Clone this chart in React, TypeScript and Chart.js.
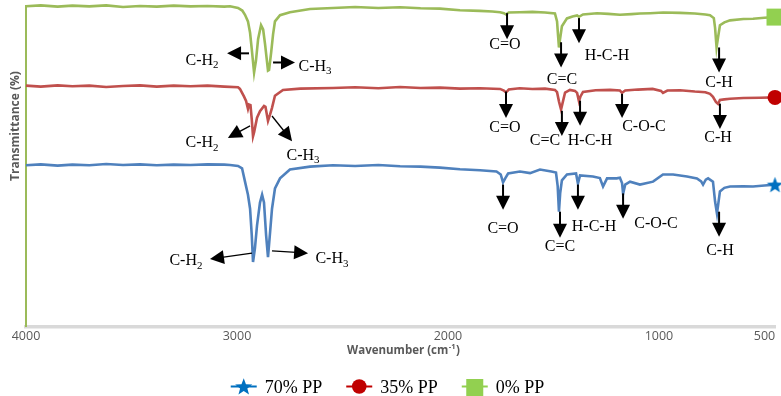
import React, { useEffect, useRef } from 'react';
import { Chart, registerables } from 'chart.js';

Chart.register(...registerables);

// ---------- data ----------
const xTicks = [4000, 3000, 2000, 1000, 500];
const seriesNames = ['70% PP', '35% PP', '0% PP'];

// 70% PP (blue)
const wn70 = [4000, 3930, 3850, 3780, 3700, 3620, 3540, 3460, 3380, 3300, 3220, 3140, 3060, 3033, 2995, 2976, 2962, 2948, 2938, 2930, 2924, 2915, 2905, 2891, 2881, 2872, 2862, 2853, 2843, 2834, 2820, 2796, 2749, 2654, 2545, 2440, 2330, 2227, 2130, 2038, 1943, 1848, 1770, 1750, 1739, 1728, 1715, 1659, 1611, 1564, 1510, 1488, 1480, 1474, 1468, 1460, 1436, 1393, 1384, 1374, 1313, 1280, 1265, 1246, 1200, 1185, 1175, 1170, 1160, 1137, 1090, 1028, 981, 933, 867, 820, 800, 791, 778, 767, 744, 734, 725, 711, 690, 663, 600, 554, 500, 450];
const t70 = [49.4, 49.7, 49.3, 49.6, 49.4, 49.8, 49.5, 49.7, 49.4, 49.6, 49.5, 49.7, 49.6, 49.5, 49.2, 48.5, 44.4, 40.4, 36.1, 28.0, 19.8, 24.0, 31.0, 38.0, 40.4, 38.0, 28.0, 21.3, 29.0, 36.1, 42.3, 45.4, 48.1, 49.0, 49.4, 49.2, 49.5, 49.1, 49.0, 48.7, 48.2, 47.9, 47.5, 46.6, 44.2, 45.5, 46.9, 47.5, 47.0, 48.1, 47.5, 47.2, 43.0, 35.2, 41.0, 44.8, 46.6, 46.9, 43.8, 46.3, 46.0, 45.5, 42.9, 45.4, 45.4, 45.6, 44.0, 40.7, 43.5, 44.4, 43.5, 44.4, 46.6, 46.6, 46.0, 45.4, 44.5, 43.5, 45.0, 45.4, 44.4, 38.3, 34.6, 41.4, 42.5, 42.9, 43.0, 42.9, 43.2, 43.5];

// 35% PP (red)
const wn35 = [4000, 3930, 3850, 3780, 3700, 3620, 3540, 3460, 3380, 3300, 3220, 3140, 3060, 2995, 2986, 2967, 2957, 2948, 2943, 2936, 2930, 2924, 2919, 2905, 2891, 2872, 2865, 2853, 2843, 2834, 2820, 2782, 2700, 2545, 2440, 2330, 2227, 2130, 2038, 1943, 1848, 1753, 1735, 1725, 1712, 1660, 1600, 1540, 1493, 1483, 1474, 1464, 1455, 1445, 1422, 1398, 1388, 1379, 1372, 1360, 1300, 1232, 1185, 1175, 1160, 1100, 1030, 990, 981, 960, 900, 830, 780, 758, 744, 730, 720, 711, 690, 663, 600, 521, 450];
const t35 = [73.8, 73.5, 73.9, 73.6, 73.8, 73.4, 73.7, 73.9, 73.5, 73.8, 73.6, 73.8, 73.5, 73.3, 72.8, 70.5, 69.1, 66.7, 68.0, 67.8, 63.5, 58.3, 59.5, 64.0, 66.0, 67.6, 67.3, 63.0, 65.0, 67.0, 70.7, 72.5, 72.9, 73.1, 73.3, 73.0, 73.4, 73.1, 73.2, 72.9, 73.0, 72.8, 72.3, 71.7, 72.6, 73.0, 72.8, 72.9, 72.5, 71.8, 69.0, 66.5, 69.0, 71.7, 72.5, 72.2, 71.6, 69.0, 70.5, 71.9, 72.4, 72.5, 72.3, 71.6, 72.3, 72.6, 72.8, 72.2, 71.6, 72.3, 72.4, 72.0, 71.8, 71.3, 70.4, 68.8, 68.2, 69.4, 69.6, 69.8, 70.0, 70.1, 70.2];

// 0% PP (green)
const wn0 = [4000, 3930, 3850, 3780, 3700, 3620, 3540, 3460, 3380, 3300, 3220, 3140, 3060, 3033, 2995, 2975, 2962, 2948, 2938, 2930, 2919, 2910, 2900, 2886, 2876, 2867, 2853, 2848, 2838, 2829, 2820, 2796, 2749, 2654, 2545, 2440, 2330, 2227, 2130, 2038, 1943, 1850, 1790, 1753, 1735, 1725, 1712, 1660, 1600, 1540, 1493, 1483, 1478, 1474, 1470, 1460, 1436, 1410, 1388, 1379, 1360, 1294, 1240, 1185, 1130, 1090, 1042, 980, 900, 830, 780, 758, 740, 734, 727, 720, 711, 690, 663, 600, 554, 500, 450];
const t0 = [98.1, 98.4, 98.0, 98.3, 98.1, 98.4, 97.9, 98.2, 98.0, 98.3, 98.1, 98.2, 98.0, 98.1, 97.6, 96.8, 95.5, 93.5, 90.0, 85.0, 77.8, 81.5, 88.0, 92.3, 91.0, 86.5, 78.4, 78.6, 84.0, 89.5, 93.5, 95.4, 96.3, 97.3, 97.6, 97.9, 97.6, 97.8, 97.5, 97.4, 96.9, 96.7, 96.5, 96.3, 96.0, 95.6, 96.2, 96.3, 96.4, 96.2, 95.9, 93.5, 89.0, 85.5, 87.5, 92.0, 94.4, 95.0, 95.3, 94.9, 95.6, 96.0, 95.8, 95.5, 95.7, 95.9, 96.0, 96.2, 96.1, 95.9, 95.6, 95.4, 94.5, 91.5, 85.5, 88.5, 92.3, 93.2, 93.8, 94.2, 94.3, 94.6, 94.8];

// annotations: arrow from (wavenumber, T) to tip (wavenumber, T), label centred at (wavenumber, T)
type Note = { label: string; from: [number, number]; to: [number, number]; at: [number, number] };

const notes70: Note[] = [
  { label: 'C-H₂', from: [2929, 22.5], to: [3128, 20.7], at: [3242, 20.4] },
  { label: 'C-H₃', from: [2834, 23.2], to: [2663, 22.5], at: [2550, 21.0] },
  { label: 'C=O', from: [1739, 43.5], to: [1739, 35.8], at: [1739, 30.3] },
  { label: 'C=C', from: [1469, 35.2], to: [1469, 27.2], at: [1469, 24.7] },
  { label: 'H-C-H', from: [1384, 43.5], to: [1384, 35.8], at: [1308, 30.9] },
  { label: 'C-O-C', from: [1170, 40.8], to: [1170, 33.0], at: [1014, 31.8] },
  { label: 'C-H', from: [715, 35.2], to: [715, 27.5], at: [711, 23.5] },
];
const notes35: Note[] = [
  { label: 'C-H₂', from: [2938, 61.5], to: [3043, 57.8], at: [3166, 56.5] },
  { label: 'C-H₃', from: [2834, 64.5], to: [2739, 56.8], at: [2687, 52.8] },
  { label: 'C=O', from: [1725, 72.0], to: [1725, 63.9], at: [1730, 61.1] },
  { label: 'C=C', from: [1460, 66.1], to: [1460, 58.4], at: [1540, 57.2] },
  { label: 'H-C-H', from: [1374, 69.2], to: [1374, 61.5], at: [1327, 57.2] },
  { label: 'C-O-C', from: [1175, 71.3], to: [1175, 63.9], at: [1071, 61.5] },
  { label: 'C-H', from: [711, 68.3], to: [711, 60.5], at: [720, 58.1] },
];
const notes0: Note[] = [
  { label: 'C-H₂', from: [2943, 83.7], to: [3047, 83.7], at: [3166, 81.8] },
  { label: 'C-H₃', from: [2829, 80.9], to: [2725, 80.9], at: [2630, 80.0] },
  { label: 'C=O', from: [1720, 96.0], to: [1720, 88.0], at: [1730, 86.5] },
  { label: 'C=C', from: [1464, 87.1], to: [1464, 79.4], at: [1460, 76.0] },
  { label: 'H-C-H', from: [1379, 94.5], to: [1379, 86.8], at: [1246, 83.4] },
  { label: 'C-H', from: [715, 85.5], to: [715, 77.8], at: [715, 75.0] },
];

// ---------- styles ----------
const lineColors = ['#4F81BD', '#C0504D', '#9BBB59'];
const markerColors = ['#0070C0', '#C00000', '#92D050'];
const diagWidths = [1.3, 1.3, 2];
const SERIF = '"Liberation Serif", "Times New Roman", serif';
const SANS = '"Open Sans", "Noto Sans", sans-serif';

function starPath(g: CanvasRenderingContext2D, cx: number, cy: number, ro: number, ri: number) {
  g.beginPath();
  for (let i = 0; i < 10; i++) {
    const r = i % 2 === 0 ? ro : ri;
    const a = -Math.PI / 2 + (i * Math.PI) / 5;
    const px = cx + r * Math.cos(a);
    const py = cy + r * Math.sin(a);
    if (i === 0) g.moveTo(px, py);
    else g.lineTo(px, py);
  }
  g.closePath();
}

function makeStar(color: string, ro: number, ri: number) {
  const c = document.createElement('canvas');
  const s = Math.ceil(ro * 2 + 2);
  c.width = s;
  c.height = s;
  const g = c.getContext('2d')!;
  g.fillStyle = color;
  starPath(g, s / 2, s / 2 + 0.8, ro, ri);
  g.fill();
  return c;
}

const SUBS = '₀₁₂₃₄₅₆₇₈₉';

function drawRich(ctx: CanvasRenderingContext2D, text: string, cx: number, cy: number, size: number) {
  const runs: { t: string; sub: boolean }[] = [];
  for (const ch of text) {
    const idx = SUBS.indexOf(ch);
    const sub = idx >= 0;
    const c = sub ? String(idx) : ch;
    const last = runs[runs.length - 1];
    if (last && last.sub === sub) last.t += c;
    else runs.push({ t: c, sub });
  }
  const subSize = size * 0.68;
  let total = 0;
  const widths = runs.map((r) => {
    ctx.font = `${r.sub ? subSize : size}px ${SERIF}`;
    const w = ctx.measureText(r.t).width;
    total += w;
    return w;
  });
  let x = cx - total / 2;
  const base = cy + size * 0.33;
  ctx.textAlign = 'left';
  ctx.textBaseline = 'alphabetic';
  runs.forEach((r, i) => {
    ctx.font = `${r.sub ? subSize : size}px ${SERIF}`;
    ctx.fillText(r.t, x, r.sub ? base + size * 0.22 : base);
    x += widths[i];
  });
}

function drawArrow(ctx: CanvasRenderingContext2D, x1: number, y1: number, x2: number, y2: number, lw: number) {
  const dx = x2 - x1;
  const dy = y2 - y1;
  const len = Math.hypot(dx, dy) || 1;
  const ux = dx / len;
  const uy = dy / len;
  const H = 14;
  const W = 7;
  const bx = x2 - ux * H;
  const by = y2 - uy * H;
  ctx.strokeStyle = '#000';
  ctx.fillStyle = '#000';
  ctx.lineWidth = lw;
  ctx.beginPath();
  ctx.moveTo(x1, y1);
  ctx.lineTo(bx + ux * 2, by + uy * 2);
  ctx.stroke();
  ctx.beginPath();
  ctx.moveTo(x2, y2);
  ctx.lineTo(bx - uy * W, by + ux * W);
  ctx.lineTo(bx + uy * W, by - ux * W);
  ctx.closePath();
  ctx.fill();
}

const notesPlugin = {
  id: 'ftirNotes',
  afterDatasetsDraw(chart: any) {
    const { ctx } = chart;
    const xs = chart.scales.x;
    const ys = chart.scales.y;
    ctx.save();
    [notes70, notes35, notes0].forEach((list, si) => {
      list.forEach((n) => {
        const x1 = xs.getPixelForValue(n.from[0]);
        const y1 = ys.getPixelForValue(n.from[1]);
        const x2 = xs.getPixelForValue(n.to[0]);
        const y2 = ys.getPixelForValue(n.to[1]);
        const vertical = Math.abs(x2 - x1) < 1;
        drawArrow(ctx, x1, y1, x2, y2, vertical ? 2 : diagWidths[si]);
        ctx.fillStyle = '#000';
        drawRich(ctx, n.label, xs.getPixelForValue(n.at[0]), ys.getPixelForValue(n.at[1]), 16);
      });
    });
    ctx.restore();
  },
};

const decorPlugin = {
  id: 'ftirDecor',
  afterDraw(chart: any) {
    const { ctx, chartArea } = chart;
    ctx.save();
    // axis titles
    ctx.fillStyle = '#595959';
    ctx.font = `bold 12px ${SANS}`;
    ctx.textBaseline = 'middle';
    ctx.textAlign = 'center';
    ctx.save();
    ctx.translate(16, 126);
    ctx.rotate(-Math.PI / 2);
    ctx.fillText('Transmittance (%)', 0, 0);
    ctx.restore();

    const cx = (chartArea.left + chartArea.right) / 2 + 3;
    const main = 'Wavenumber (cm';
    const sup = '-1';
    const close = ')';
    ctx.font = `bold 11.5px ${SANS}`;
    const wMain = ctx.measureText(main).width;
    const wClose = ctx.measureText(close).width;
    ctx.font = `bold 7.5px ${SANS}`;
    const wSup = ctx.measureText(sup).width;
    let x = cx - (wMain + wSup + wClose + 1) / 2;
    const ty = 351;
    ctx.textAlign = 'left';
    ctx.font = `bold 11.5px ${SANS}`;
    ctx.fillText(main, x, ty);
    x += wMain + 0.5;
    ctx.font = `bold 7.5px ${SANS}`;
    ctx.fillText(sup, x, ty - 4);
    x += wSup + 0.5;
    ctx.font = `bold 11.5px ${SANS}`;
    ctx.fillText(close, x, ty);

    // legend
    const ly = 386.5;
    ctx.font = `18px ${SERIF}`;
    const textW = seriesNames.map((n) => ctx.measureText(n).width);
    const lineLen = 26;
    const gapText = 8;
    const gapItem = 24;
    const total = textW.reduce((a, w) => a + lineLen + gapText + w, 0) + gapItem * (seriesNames.length - 1);
    let sx = chart.width / 2 - 3 - total / 2;
    seriesNames.forEach((name, i) => {
      const col = markerColors[i];
      ctx.strokeStyle = col;
      ctx.lineWidth = 2;
      ctx.beginPath();
      ctx.moveTo(sx, ly);
      ctx.lineTo(sx + lineLen, ly);
      ctx.stroke();
      const mx = sx + lineLen / 2;
      ctx.fillStyle = col;
      if (i === 0) {
        starPath(ctx, mx, ly + 0.8, 9, 3.8);
        ctx.fill();
      } else if (i === 1) {
        ctx.beginPath();
        ctx.arc(mx, ly, 7.3, 0, Math.PI * 2);
        ctx.fill();
      } else {
        ctx.fillRect(mx - 8.5, ly - 7.5, 17, 17);
      }
      ctx.fillStyle = '#000';
      ctx.textAlign = 'left';
      ctx.textBaseline = 'alphabetic';
      ctx.font = `18px ${SERIF}`;
      ctx.fillText(name, sx + lineLen + gapText, ly + 6);
      sx += lineLen + gapText + textW[i] + gapItem;
    });
    ctx.restore();
  },
};

export default function App() {
  const ref = useRef<HTMLCanvasElement | null>(null);

  useEffect(() => {
    document.body.style.margin = '0';
    const canvas = ref.current;
    if (!canvas) return;
    const star = makeStar(markerColors[0], 8.5, 3.6);
    const series = [
      { wn: wn70, t: t70, style: star as any, r: 8 },
      { wn: wn35, t: t35, style: 'circle', r: 7.5 },
      { wn: wn0, t: t0, style: 'rect', r: 12 },
    ];
    const datasets = series.map((s, i) => {
      const n = s.wn.length;
      return {
        label: seriesNames[i],
        data: s.wn.map((x, k) => ({ x, y: s.t[k] })),
        borderColor: lineColors[i],
        backgroundColor: lineColors[i],
        borderWidth: 2.6,
        tension: 0,
        fill: false,
        clip: false as any,
        pointStyle: s.style,
        pointRadius: (c: any) => (c.dataIndex === n - 1 ? s.r : 0),
        pointHoverRadius: 0,
        pointBackgroundColor: markerColors[i],
        pointBorderColor: markerColors[i],
        pointBorderWidth: 0,
      };
    });
    const chart = new Chart(canvas, {
      type: 'line',
      data: { datasets: datasets as any },
      options: {
        animation: false,
        responsive: false,
        events: [],
        layout: { autoPadding: false, padding: { left: 26, right: 6, top: 6, bottom: 50.4 } },
        plugins: { legend: { display: false }, tooltip: { enabled: false } },
        scales: {
          x: {
            type: 'linear',
            reverse: true,
            min: 450,
            max: 4000,
            afterBuildTicks: (scale: any) => {
              scale.ticks = xTicks.map((v) => ({ value: v }));
            },
            ticks: {
              autoSkip: false,
              maxRotation: 0,
              padding: 2,
              color: '#595959',
              font: { family: SANS, size: 12.5 },
              callback: (v: any) => String(v),
            },
            grid: { display: false, drawTicks: false },
            border: { display: true, color: '#D9D9D9', width: 3.5 },
          },
          y: {
            min: 0,
            max: 98.2,
            ticks: { display: false },
            grid: { display: false, drawTicks: false },
            border: { display: true, color: '#9BBB59', width: 2 },
          },
        },
      },
      plugins: [notesPlugin, decorPlugin],
    });
    return () => chart.destroy();
  }, []);

  return (
    <div style={{ width: 781, height: 396, background: '#fff' }}>
      <canvas ref={ref} width={781} height={396} style={{ display: 'block' }} />
    </div>
  );
}
